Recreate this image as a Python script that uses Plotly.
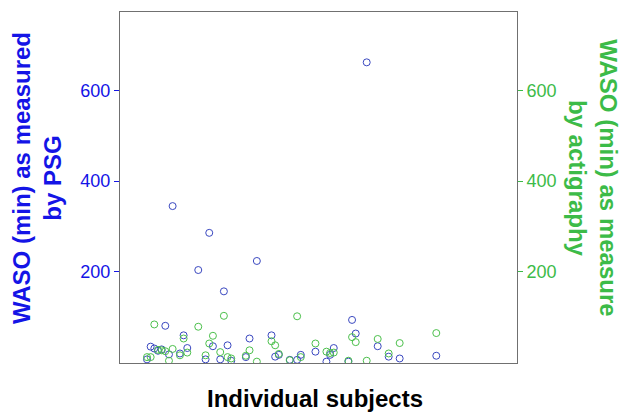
import plotly.graph_objects as go

# Subject index (x) and WASO values (min)
subjects = [1, 2, 3, 4, 5, 6, 7, 8, 10, 11, 12, 15, 17, 18, 19, 21, 22, 23, 24,
            28, 29, 31, 35, 36, 37, 40, 42, 43, 47, 50, 51, 52, 56, 57, 58, 61,
            64, 67, 70, 80]
waso_psg = [7, 35, 31, 26, 29, 81, 18, 345, 20, 60, 32, 204, 7, 286, 36, 7, 157,
            38, 4, 12, 53, 224, 60, 13, 17, 6, 6, 17, 24, 2, 17, 32, 2, 94, 64,
            662, 36, 13, 9, 15]
waso_act = [12, 12, 84, 28, 27, 25, 4, 30, 16, 53, 22, 79, 16, 42, 59, 23, 103,
            12, 9, 15, 27, 2, 47, 38, 19, 5, 102, 12, 42, 24, 21, 22, 4, 56, 45,
            4, 52, 20, 43, 65]
y_ticks = [200, 400, 600]

BLUE_TXT = "#1414e6"
GREEN_TXT = "#3cbb48"
FONT = "Liberation Sans, Arial, sans-serif"

fig = go.Figure()
fig.add_trace(go.Scatter(
    x=subjects, y=waso_psg, mode="markers", yaxis="y",
    marker=dict(symbol="circle-open", size=7, color="#3a48c0", line=dict(width=1)),
    showlegend=False))
fig.add_trace(go.Scatter(
    x=subjects, y=waso_act, mode="markers", yaxis="y2",
    marker=dict(symbol="circle-open", size=7, color="#4cc04c", line=dict(width=1)),
    showlegend=False))

yr = [-1, 773]
fig.update_layout(
    width=622, height=412,
    margin=dict(l=120, r=105, t=12, b=49),
    paper_bgcolor="white", plot_bgcolor="white",
    font=dict(family=FONT),
    xaxis=dict(range=[-6.37, 102.04], showgrid=False, zeroline=False,
               showticklabels=False, ticks="", showline=True, mirror=True,
               linecolor="#707070", linewidth=1),
    yaxis=dict(range=yr, tickvals=y_ticks, showgrid=False, zeroline=False,
               ticks="outside", ticklen=5, tickcolor=BLUE_TXT,
               tickfont=dict(size=18, color=BLUE_TXT, family=FONT),
               showline=True, linecolor="#707070", linewidth=1),
    yaxis2=dict(range=yr, tickvals=y_ticks, overlaying="y", side="right",
                showgrid=False, zeroline=False,
                ticks="outside", ticklen=5, tickcolor=GREEN_TXT,
                tickfont=dict(size=18, color=GREEN_TXT, family=FONT),
                showline=True, linecolor="#707070", linewidth=1),
    annotations=[
        dict(text="<b>WASO (min) as measured<br>by PSG</b>", textangle=-90,
             xref="paper", yref="paper", x=-0.209, y=0.527, xanchor="center",
             yanchor="middle", showarrow=False,
             font=dict(size=24, color=BLUE_TXT, family=FONT)),
        dict(text="<b>WASO (min) as measure<br>by actigraphy</b>", textangle=90,
             xref="paper", yref="paper", x=1.191, y=0.527, xanchor="center",
             yanchor="middle", showarrow=False,
             font=dict(size=24, color=GREEN_TXT, family=FONT)),
        dict(text="<b>Individual subjects</b>", xref="paper", yref="paper",
             x=0.49, y=-0.102, xanchor="center", yanchor="middle", showarrow=False,
             font=dict(size=24, color="black", family=FONT)),
    ],
)

fig.write_html("out.html")
